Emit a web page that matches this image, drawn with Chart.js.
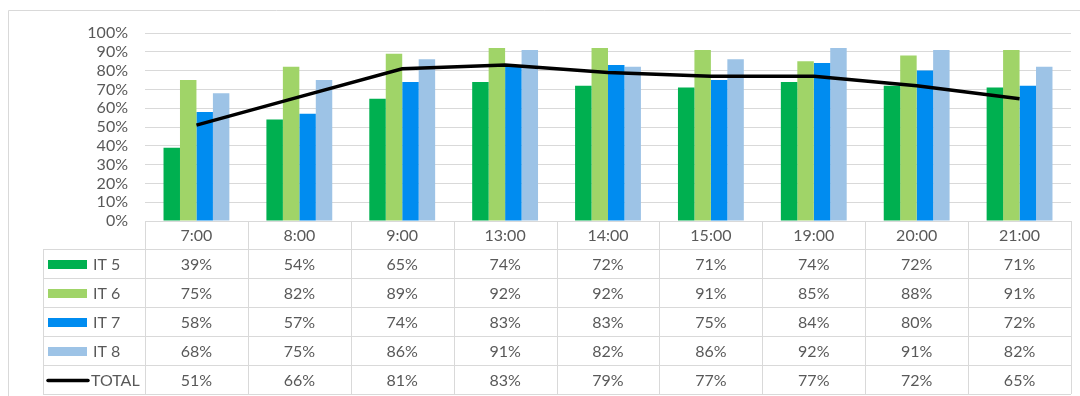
<!DOCTYPE html>
<html>
<head>
<meta charset="utf-8">
<script src="https://cdn.jsdelivr.net/npm/chart.js@4/dist/chart.umd.min.js"></script>
<style>
  html, body { margin: 0; padding: 0; background: #fff; }
  #wrap { width: 1080px; height: 396px; position: relative; }
</style>
</head>
<body>
<div id="wrap"><canvas id="chart" width="1080" height="396"></canvas></div>
<script>
// Chart data
const categories = ['7:00', '8:00', '9:00', '13:00', '14:00', '15:00', '19:00', '20:00', '21:00'];
const it5 = [39, 54, 65, 74, 72, 71, 74, 72, 71];
const it6 = [75, 82, 89, 92, 92, 91, 85, 88, 91];
const it7 = [58, 57, 74, 83, 83, 75, 84, 80, 72];
const it8 = [68, 75, 86, 91, 82, 86, 92, 91, 82];
const total = [51, 66, 81, 83, 79, 77, 77, 72, 65];
const yTicks = [0, 10, 20, 30, 40, 50, 60, 70, 80, 90, 100];

const FONT = 'Lato, "Open Sans", sans-serif';
const TEXT = '#595959';
const GRID = '#D9D9D9';

// draws the data table under the plot, using the x scale for column positions
const dataTable = {
    id: 'dataTable',
    afterDraw(chart) {
        const c = chart.ctx;
        const x = chart.scales.x;
        const area = chart.chartArea;
        const top = area.bottom;
        const headH = 28;
        const rowH = 29;
        const legendLeft = 43;
        const rows = chart.data.datasets.slice().sort((a, b) => a.tableRow - b.tableRow);
        const bottom = top + headH + rowH * rows.length;
        const colW = x.width / categories.length;

        c.save();
        // outer chart border
        c.strokeStyle = '#D9D9D9';
        c.lineWidth = 1;
        c.beginPath();
        c.moveTo(8.5, 396);
        c.lineTo(8.5, 10.5);
        c.lineTo(1080, 10.5);
        c.stroke();

        // grid lines of the table
        c.strokeStyle = GRID;
        c.beginPath();
        c.moveTo(x.left, top + 0.5);
        c.lineTo(x.right, top + 0.5);
        for (let r = 0; r <= rows.length; r++) {
            const yy = Math.round(top + headH + r * rowH) + 0.5;
            c.moveTo(legendLeft, yy);
            c.lineTo(x.right, yy);
        }
        for (let i = 0; i <= categories.length; i++) {
            const xx = Math.round(x.left + i * colW) + 0.5;
            c.moveTo(xx, top);
            c.lineTo(xx, bottom);
        }
        c.moveTo(legendLeft + 0.5, top + headH);
        c.lineTo(legendLeft + 0.5, bottom);
        c.stroke();

        // header labels
        c.fillStyle = TEXT;
        c.font = '16px ' + FONT;
        c.textAlign = 'center';
        c.textBaseline = 'middle';
        categories.forEach((cat, i) => {
            c.fillText(cat, x.getPixelForValue(i), top + headH / 2 + 1);
        });

        // rows: legend key + values
        rows.forEach((ds, r) => {
            const cy = top + headH + r * rowH + rowH / 2 + 1;
            if (ds.type === 'line') {
                c.strokeStyle = ds.borderColor;
                c.lineWidth = 3.5;
                c.lineCap = 'round';
                c.beginPath();
                c.moveTo(48, cy);
                c.lineTo(88, cy);
                c.stroke();
            } else {
                c.fillStyle = ds.backgroundColor;
                c.fillRect(48, cy - 4.5, 39, 9);
            }
            c.fillStyle = TEXT;
            c.textAlign = 'left';
            c.fillText(ds.label, ds.type === 'line' ? 91 : 93, cy);
            c.textAlign = 'center';
            ds.data.forEach((v, i) => {
                c.fillText(v + '%', x.getPixelForValue(i), cy);
            });
        });
        c.restore();
    }
};

const barOpts = { categoryPercentage: 0.64, barPercentage: 1.0, borderWidth: 0 };

new Chart(document.getElementById('chart'), {
    data: {
        labels: categories,
        datasets: [
            {
                type: 'line', label: 'TOTAL', data: total, tableRow: 4,
                borderColor: '#000000', borderWidth: 3.5, pointRadius: 0,
                tension: 0, order: 0
            },
            { type: 'bar', label: 'IT 5', data: it5, backgroundColor: '#00B050', tableRow: 0, order: 1, ...barOpts },
            { type: 'bar', label: 'IT 6', data: it6, backgroundColor: '#A0D468', tableRow: 1, order: 1, ...barOpts },
            { type: 'bar', label: 'IT 7', data: it7, backgroundColor: '#008CF0', tableRow: 2, order: 1, ...barOpts },
            { type: 'bar', label: 'IT 8', data: it8, backgroundColor: '#9DC3E6', tableRow: 3, order: 1, ...barOpts }
        ]
    },
    options: {
        responsive: false,
        animation: false,
        layout: { padding: { top: 33, right: 9, bottom: 175, left: 0 } },
        scales: {
            x: { display: false },
            y: {
                min: 0,
                max: 100,
                afterBuildTicks: scale => { scale.ticks = yTicks.map(v => ({ value: v })); },
                afterFit: scale => { scale.width = 145; },
                border: { display: false },
                grid: { color: GRID, lineWidth: 1, drawTicks: false },
                ticks: {
                    autoSkip: false,
                    padding: 17,
                    color: TEXT,
                    font: { family: FONT, size: 16 },
                    callback: v => v + '%'
                }
            }
        },
        plugins: {
            legend: { display: false },
            tooltip: { enabled: false }
        }
    },
    plugins: [dataTable]
});
</script>
</body>
</html>
